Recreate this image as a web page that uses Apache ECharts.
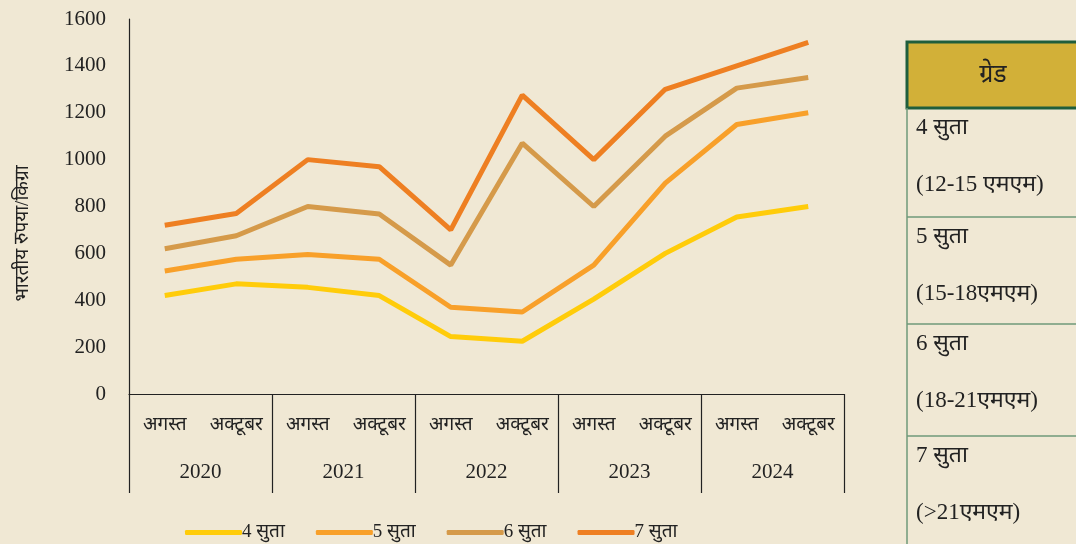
<!doctype html>
<html lang="hi">

<head>
    <meta charset="UTF-8">
    <title>सुता ग्रेड भाव</title>
    <style>
        html, body { margin: 0; padding: 0; background: #f0e8d4; }
    </style>
</head>

<body>
    <div id="main" style="width: 1076px;height:544px;"></div>
    <script src="https://cdn.jsdelivr.net/npm/echarts@6/dist/echarts.min.js"></script>
    <script>
        var months = ['अगस्त', 'अक्टूबर', 'अगस्त', 'अक्टूबर', 'अगस्त', 'अक्टूबर', 'अगस्त', 'अक्टूबर', 'अगस्त', 'अक्टूबर'];
        var years = ['2020', '2021', '2022', '2023', '2024'];
        var yTicks = [0, 200, 400, 600, 800, 1000, 1200, 1400, 1600];

        var suta4 = [420, 470, 455, 420, 245, 225, 405, 600, 755, 800];
        var suta5 = [525, 575, 595, 575, 370, 350, 550, 900, 1150, 1200];
        var suta6 = [620, 675, 800, 768, 550, 1070, 800, 1100, 1305, 1350];
        var suta7 = [720, 770, 1000, 970, 700, 1275, 1000, 1300, 1400, 1500];

        var seriesNames = ['4 सुता', '5 सुता', '6 सुता', '7 सुता'];
        var colors = ['#ffcc0a', '#f8a02a', '#d59a4a', '#ee7f22'];

        // तालिका की पंक्तियाँ
        var gradeRows = [
            ['4 सुता', '(12-15 एमएम)'],
            ['5 सुता', '(15-18एमएम)'],
            ['6 सुता', '(18-21एमएम)'],
            ['7 सुता', '(>21एमएम)']
        ];

        var fontFam = '"Liberation Serif", "Noto Sans", serif';
        var ink = '#222';

        var myChart = echarts.init(document.getElementById('main'));

        var tableGraphics = [];
        var tx = 907, rowTops = [108, 217, 324, 436, 560];
        tableGraphics.push({
            type: 'rect', shape: { x: tx, y: 42, width: 200, height: 66 },
            style: { fill: '#d2b038', stroke: '#1f5e3c', lineWidth: 3 }, z: 10
        });
        tableGraphics.push({
            type: 'text', x: 993, y: 75,
            style: { text: 'ग्रेड', font: '25px ' + fontFam, fill: ink, align: 'center', verticalAlign: 'middle' }, z: 11
        });
        tableGraphics.push({
            type: 'line', shape: { x1: tx, y1: 108, x2: tx, y2: 544 },
            style: { stroke: '#6f9a7a', lineWidth: 1.5 }, z: 10
        });
        for (var i = 0; i < gradeRows.length; i++) {
            var rowY = rowTops[i];
            if (i > 0) {
                tableGraphics.push({
                    type: 'line', shape: { x1: tx, y1: rowY, x2: 1076, y2: rowY },
                    style: { stroke: '#6f9a7a', lineWidth: 1.5 }, z: 10
                });
            }
            tableGraphics.push({
                type: 'text', x: 916, y: rowY + 20,
                style: { text: gradeRows[i][0], font: '23px ' + fontFam, fill: ink, verticalAlign: 'middle' }, z: 11
            });
            tableGraphics.push({
                type: 'text', x: 916, y: rowY + 77,
                style: { text: gradeRows[i][1], font: '23px ' + fontFam, fill: ink, verticalAlign: 'middle' }, z: 11
            });
        }

        var option = {
            backgroundColor: '#f0e8d4',
            textStyle: { fontFamily: fontFam },
            grid: { left: 129, right: 232, top: 19, bottom: 150, outerBoundsMode: 'none' },
            legend: {
                data: seriesNames,
                left: 180,
                top: 518,
                icon: 'roundRect',
                itemWidth: 57,
                itemHeight: 5,
                itemGap: 31,
                textStyle: { fontSize: 19, color: ink, fontFamily: fontFam, padding: [0, 0, 0, -5] }
            },
            xAxis: [{
                type: 'category',
                data: months,
                position: 'bottom',
                axisLine: { show: false },
                axisTick: { show: false },
                axisLabel: { fontSize: 19, color: ink, margin: 22, interval: 0 }
            }, {
                type: 'category',
                data: years,
                position: 'bottom',
                axisLine: { show: true, lineStyle: { color: ink, width: 1.2 } },
                axisTick: { show: true, length: 99, lineStyle: { color: ink, width: 1.2 } },
                axisLabel: { fontSize: 21, color: ink, margin: 68 },
                splitLine: { show: false }
            }],
            yAxis: {
                type: 'value',
                min: yTicks[0],
                max: yTicks[yTicks.length - 1],
                interval: 200,
                name: 'भारतीय रुपया/किग्रा',
                nameLocation: 'middle',
                nameGap: 96,
                nameTextStyle: { fontSize: 19, color: ink, padding: [0, 54, 0, 0] },
                axisLine: { show: true, lineStyle: { color: ink, width: 1.2 } },
                axisTick: { show: false },
                splitLine: { show: false },
                axisLabel: {
                    fontSize: 21, color: ink, margin: 23,
                    formatter: function (v) { return String(v); }
                }
            },
            series: [suta4, suta5, suta6, suta7].map(function (vals, k) {
                return {
                    name: seriesNames[k],
                    type: 'line',
                    xAxisIndex: 0,
                    data: vals,
                    symbol: 'none',
                    lineStyle: { width: 5, color: colors[k] },
                    itemStyle: { color: colors[k] }
                };
            }),
            graphic: tableGraphics
        };

        myChart.setOption(option);
    </script>
</body>

</html>
